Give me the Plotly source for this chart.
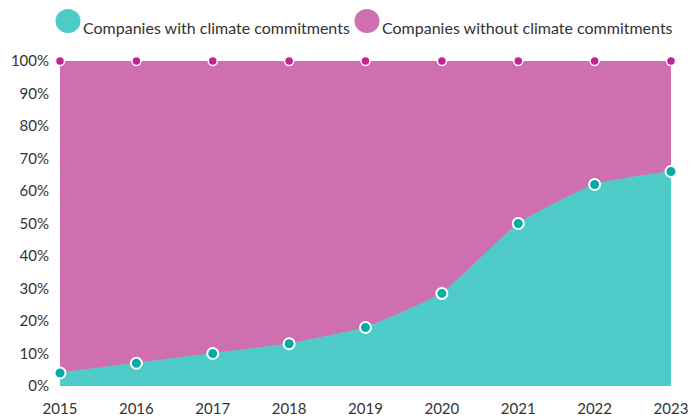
import plotly.graph_objects as go

years = [2015, 2016, 2017, 2018, 2019, 2020, 2021, 2022, 2023]
with_commit = [4, 7, 10, 13, 18, 28.5, 50, 62, 66]
total = [100, 100, 100, 100, 100, 100, 100, 100, 100]
tick_vals = [0, 10, 20, 30, 40, 50, 60, 70, 80, 90, 100]
tick_text = [f"{v}%" for v in tick_vals]

teal_fill = "#4ECAC8"
teal_dot = "#05ABA8"
pink_fill = "#CF6FAF"
pink_dot = "#C2268E"
font_fam = "Lato, 'Open Sans', sans-serif"

H, T, B = 419, 61, 33
PH = H - T - B

def py(pix):
    return 1 + (T - pix) / PH

fig = go.Figure()
fig.add_trace(go.Scatter(
    x=years, y=with_commit, mode="lines",
    line=dict(color=teal_fill, width=1, shape="spline", smoothing=0.4),
    fill="tozeroy", fillcolor=teal_fill,
    cliponaxis=False, showlegend=False))
fig.add_trace(go.Scatter(
    x=years, y=total, mode="lines+markers",
    line=dict(color=pink_fill, width=1),
    fill="tonexty", fillcolor=pink_fill,
    marker=dict(color=pink_dot, size=9, line=dict(color="white", width=1.5)),
    cliponaxis=False, showlegend=False))
fig.add_trace(go.Scatter(
    x=years, y=with_commit, mode="markers",
    marker=dict(color=teal_dot, size=11, line=dict(color="white", width=2)),
    cliponaxis=False, showlegend=False, hoverinfo="skip"))

W, L, R = 689, 60, 18
PW = W - L - R

def px(pix):
    return (pix - L) / PW

legend_items = [("Companies with climate commitments", teal_fill, 68, 81),
                ("Companies without climate commitments", pink_fill, 367, 380)]
for text, col, cx, tx in legend_items:
    fig.add_shape(type="circle", xref="paper", yref="paper",
                  xsizemode="pixel", ysizemode="pixel",
                  xanchor=px(cx), yanchor=py(21),
                  x0=-12.5, x1=12.5, y0=-12, y1=12,
                  fillcolor=col, line=dict(width=0))
    fig.add_annotation(text=text, xref="paper", yref="paper",
                       x=px(tx), y=py(27),
                       xanchor="left", yanchor="middle", showarrow=False,
                       font=dict(family=font_fam, size=16, color="#333333"))

fig.update_layout(
    width=W, height=H,
    margin=dict(l=L, r=R, t=T, b=B, autoexpand=False),
    paper_bgcolor="white", plot_bgcolor="white",
    font=dict(family=font_fam, size=15, color="#333333"),
    xaxis=dict(range=[2015, 2023], tickvals=years, ticktext=[str(y) for y in years],
               showgrid=False, zeroline=False, showline=False, ticks="",
               ticklabelstandoff=12, automargin=False),
    yaxis=dict(range=[0, 100], tickvals=tick_vals, ticktext=tick_text,
               showgrid=False, zeroline=False, showline=False, ticks="",
               ticklabelstandoff=10, automargin=False),
)

fig.write_html("out.html", config={"displayModeBar": False},
               post_script="document.body.style.margin='0';document.body.style.overflow='hidden';")
